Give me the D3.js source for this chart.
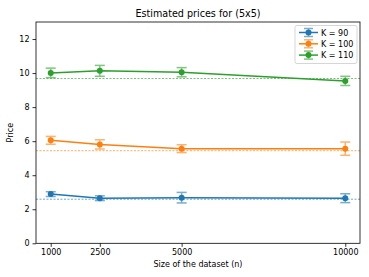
<!DOCTYPE html>
<html><head><meta charset="utf-8">
<script src="https://cdn.jsdelivr.net/npm/d3@7"></script>
<style>body{margin:0;background:#fff}text{font-family:"DejaVu Sans",sans-serif;fill:#000}</style>
</head><body><svg id="c" width="369" height="277"></svg>
<script>
const sizes = [1000, 2500, 5000, 10000];
const seriesNames = ["K = 90", "K = 100", "K = 110"];
const colors = ["#1f77b4", "#ff7f0e", "#2ca02c"];
const k90 = [2.89, 2.65, 2.68, 2.65];
const k90Err = [0.14, 0.14, 0.31, 0.26];
const k100 = [6.05, 5.81, 5.56, 5.56];
const k100Err = [0.23, 0.27, 0.23, 0.39];
const k110 = [10.01, 10.13, 10.05, 9.54];
const k110Err = [0.28, 0.32, 0.27, 0.27];
const refPrices = [2.59, 5.44, 9.68];
const yTicks = [0, 2, 4, 6, 8, 10, 12];

const series = [
  {name: seriesNames[0], v: k90, e: k90Err, ref: refPrices[0], c: colors[0]},
  {name: seriesNames[1], v: k100, e: k100Err, ref: refPrices[1], c: colors[1]},
  {name: seriesNames[2], v: k110, e: k110Err, ref: refPrices[2], c: colors[2]}
];

const svg = d3.select("#c");
const L = 36, R = 360, T = 22, B = 243.3;
const x = d3.scaleLinear().domain([550, 10450]).range([L, R]);
const y = d3.scaleLinear().domain([0, 13]).range([B, T]);

// axes
const xa = svg.append("g").attr("transform", `translate(0,${B})`)
  .call(d3.axisBottom(x).tickValues(sizes).tickFormat(d3.format("d")).tickSizeOuter(0).tickSize(3.5).tickPadding(3));
const ya = svg.append("g").attr("transform", `translate(${L},0)`)
  .call(d3.axisLeft(y).tickValues(yTicks).tickSizeOuter(0).tickSize(3.5).tickPadding(3));
[xa, ya].forEach(a => {
  a.select(".domain").remove();
  a.selectAll("text").style("font-size", "8px").style("font-family", "DejaVu Sans");
  a.selectAll("line").attr("stroke", "#000").attr("stroke-width", 0.8);
});

// dashed ref lines
series.forEach(s => {
  svg.append("line").attr("x1", L).attr("x2", R).attr("y1", y(s.ref)).attr("y2", y(s.ref))
    .attr("stroke", s.c).attr("stroke-width", 0.8).attr("stroke-dasharray", "2,1.5").attr("opacity", 0.8);
});

const line = d3.line().x((d, i) => x(sizes[i])).y(d => y(d));
series.forEach(s => {
  svg.append("path").datum(s.v).attr("d", line).attr("fill", "none").attr("stroke", s.c).attr("stroke-width", 1.5);
  s.v.forEach((v, i) => {
    const cx = x(sizes[i]);
    const g = svg.append("g").attr("stroke", s.c).attr("opacity", 0.6);
    g.append("line").attr("x1", cx).attr("x2", cx).attr("y1", y(v - s.e[i])).attr("y2", y(v + s.e[i])).attr("stroke-width", 1.5);
    [v - s.e[i], v + s.e[i]].forEach(w => g.append("line").attr("x1", cx - 5).attr("x2", cx + 5).attr("y1", y(w)).attr("y2", y(w)).attr("stroke-width", 1.5));
    svg.append("circle").attr("cx", cx).attr("cy", y(v)).attr("r", 3).attr("fill", s.c);
  });
});

// frame
svg.append("rect").attr("x", L).attr("y", T).attr("width", R - L).attr("height", B - T)
  .attr("fill", "none").attr("stroke", "#000").attr("stroke-width", 0.8);

// title & labels
svg.append("text").attr("x", (L + R) / 2).attr("y", 17).attr("text-anchor", "middle").style("font-size", "9.6px").text("Estimated prices for (5x5)");
svg.append("text").attr("x", (L + R) / 2).attr("y", 267).attr("text-anchor", "middle").style("font-size", "8px").text("Size of the dataset (n)");
svg.append("text").attr("transform", `translate(13,${(T + B) / 2}) rotate(-90)`).attr("text-anchor", "middle").style("font-size", "8px").text("Price");

// legend
const lg = svg.append("g");
lg.append("rect").attr("x", 295).attr("y", 25.5).attr("width", 62).attr("height", 38).attr("rx", 2)
  .attr("fill", "#fff").attr("fill-opacity", 0.8).attr("stroke", "#ccc").attr("stroke-width", 0.8);
series.forEach((s, i) => {
  const yy = 32.5 + i * 11.3;
  lg.append("line").attr("x1", 299).attr("x2", 318).attr("y1", yy).attr("y2", yy).attr("stroke", s.c).attr("stroke-width", 1.5);
  const g = lg.append("g").attr("stroke", s.c).attr("opacity", 0.6);
  g.append("line").attr("x1", 308.5).attr("x2", 308.5).attr("y1", yy - 4).attr("y2", yy + 4).attr("stroke-width", 1.5);
  g.append("line").attr("x1", 304).attr("x2", 313).attr("y1", yy - 4).attr("y2", yy - 4).attr("stroke-width", 1.5);
  g.append("line").attr("x1", 304).attr("x2", 313).attr("y1", yy + 4).attr("y2", yy + 4).attr("stroke-width", 1.5);
  lg.append("circle").attr("cx", 308.5).attr("cy", yy).attr("r", 3).attr("fill", s.c);
  lg.append("text").attr("x", 321).attr("y", yy + 3).style("font-size", "8px").text(s.name);
});
</script></body></html>
